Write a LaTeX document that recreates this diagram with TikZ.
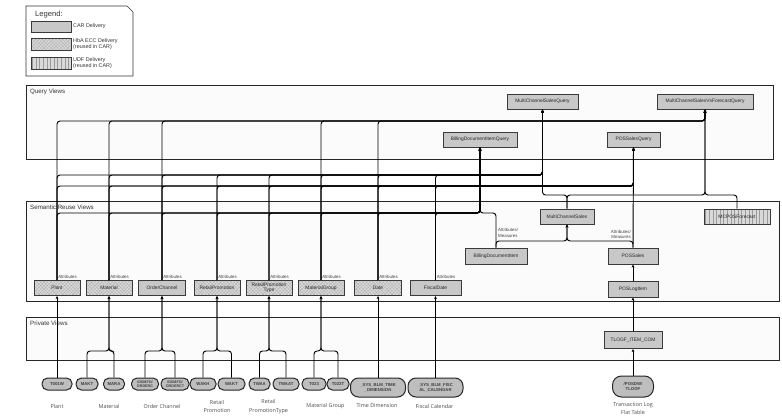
\documentclass[tikz,border=0pt]{standalone}
\usepackage{fontspec}
\setmainfont{Liberation Sans}
\newfontfamily\labelfont{Open Sans}
\usetikzlibrary{arrows.meta,patterns.meta}

\definecolor{boxgray}{HTML}{C8C8C8}
\definecolor{boxedge}{HTML}{3A3A3A}
\definecolor{hatchbase}{HTML}{D9D9D9}
\definecolor{hatchline}{HTML}{ABABAB}
\definecolor{udfline}{HTML}{9A9A9A}
\definecolor{ovalgray}{HTML}{BEBEBE}
\definecolor{panelfill}{HTML}{FBFBFB}

\begin{document}
\begin{tikzpicture}[x=1pt,y=-1pt,
  panel/.style={draw=black!85, line width=0.7pt, fill=panelfill},
  paneltitle/.style={anchor=north west, inner sep=0pt, font=\fontsize{6.2}{7}\selectfont, text=black!80},
  boxbase/.style={draw=boxedge, line width=0.9pt, minimum height=15pt,
    inner sep=1pt, font=\fontsize{4.9}{5.4}\selectfont, text=black!85, align=center},
  viewbox/.style={boxbase, fill=boxgray},
  ecc/.style={boxbase, preaction={fill=hatchbase},
    pattern={Hatch[angle=45,distance=2.4pt,line width=0.25pt]}, pattern color=hatchline},
  udf/.style={boxbase, preaction={fill=hatchbase},
    pattern={Lines[angle=90,distance=3.6pt,line width=0.3pt]}, pattern color=udfline},
  srctable/.style={draw=black!85, line width=1pt, fill=ovalgray, rounded corners=5.5pt,
    minimum height=12pt, inner sep=0.8pt, align=center,
    font=\bfseries\fontsize{4.3}{4.7}\selectfont, text=black!75},
  conn/.style={draw=black, line width=0.95pt, rounded corners=3pt,
    -{Stealth[length=3.2pt,width=2.8pt]}},
  attr/.style={inner sep=0.5pt, font=\fontsize{4.4}{5.2}\selectfont, text=black!75},
  srclabel/.style={font=\labelfont\fontsize{5.4}{8.4}\selectfont, text=black!70, align=center},
  legtext/.style={anchor=west, inner sep=0pt, font=\fontsize{5.4}{6.2}\selectfont, text=black!80, align=left},
]
\useasboundingbox (0,0) rectangle (782,418);
\fill[white] (0,0) rectangle (782,418);

% ---------- legend ----------
\draw[draw=black!80, line width=0.7pt, fill=white]
  (26,6) -- (127,6) -- (133,12) -- (133,76) -- (26,76) -- cycle;
\node[anchor=west, inner sep=0pt, font=\fontsize{7.6}{9}\selectfont, text=black!80] (legtitle) at (35,15) {Legend:};
\node[viewbox, minimum width=40pt, minimum height=11pt] (legcar) at (51,26.5) {};
\node[ecc, minimum width=40pt, minimum height=12pt] (legecc) at (51,44) {};
\node[udf, minimum width=40pt, minimum height=12pt] (legudf) at (51,63) {};
\node[legtext] (legcart) at (73,26.5) {CAR Delivery};
\node[legtext] (legecct) at (73,44) {HbA ECC Delivery\\(reused in CAR)};
\node[legtext] (legudft) at (73,63) {UDF Delivery\\(reused in CAR)};

% ---------- layers ----------
\draw[panel] (26,85) rectangle (773,159);
\draw[panel] (26,201) rectangle (779,301);
\draw[panel] (26,317) rectangle (779,360);
\node[paneltitle] (tquery) at (30,88.5) {Query Views};
\node[paneltitle] (tsem) at (30,204.5) {Semantic Reuse Views};
\node[paneltitle] (tpriv) at (30,320.5) {Private Views};

% bus heights
\coordinate (busA) at (0,121);
\coordinate (busB) at (0,175);
\coordinate (busC) at (0,186);
\coordinate (busE) at (0,195);
\coordinate (busD) at (0,213);
\coordinate (busF) at (0,241);
\coordinate (joinP) at (0,351);

% ---------- query views ----------
\node[viewbox, minimum width=71pt] (mcsq) at (542.5,101.5) {MultiChannelSalesQuery};
\node[viewbox, minimum width=96pt] (mcsvfq) at (705,101.5) {MultiChannelSalesVsForecastQuery};
\node[viewbox, minimum width=74pt] (bdiq) at (480,139.5) {BillingDocumentItemQuery};
\node[viewbox, minimum width=53pt] (possq) at (633.5,139.5) {POSSalesQuery};

% ---------- semantic reuse views ----------
\node[ecc, minimum width=46pt] (plant) at (57,288) {Plant};
\node[ecc, minimum width=46pt] (material) at (109,288) {Material};
\node[viewbox, minimum width=47pt] (orderch) at (162,288) {OrderChannel};
\node[ecc, minimum width=46pt] (retailpromo) at (217,288) {RetailPromotion};
\node[ecc, minimum width=46pt] (retailpromotype) at (269,288) {RetailPromotion\\Type};
\node[ecc, minimum width=46pt] (matgroup) at (321,288) {MaterialGroup};
\node[ecc, minimum width=47pt] (date) at (378,288) {Date};
\node[viewbox, minimum width=51pt] (fiscaldate) at (435.5,288) {FiscalDate};

\node[viewbox, minimum width=62pt, minimum height=16pt] (bdi) at (496,256) {BillingDocumentItem};
\node[viewbox, minimum width=54pt] (mcs) at (567,216.5) {MultiChannelSales};
\node[udf, minimum width=66pt] (mcpos) at (737,216.5) {MCPOSForecast};
\node[viewbox, minimum width=50pt, minimum height=16pt] (possales) at (633,256) {POSSales};
\node[viewbox, minimum width=50pt, minimum height=16pt] (poslog) at (633,289) {POSLogItem};

% ---------- private views ----------
\node[viewbox, minimum width=58pt, minimum height=17pt] (tlogf) at (633,340) {TLOGF\_ITEM\_COM};

% ---------- source tables ----------
\node[srctable, minimum width=30pt] (t001w) at (57,384) {T001W};
\node[srctable, minimum width=22pt] (makt) at (87,384) {MAKT};
\node[srctable, minimum width=21pt] (mara) at (114,384) {MARA};
\node[srctable, minimum width=27pt, font=\bfseries\fontsize{3.7}{4.3}\selectfont] (ordc) at (145,384) {/DSMFO/\\ORDERC};
\node[srctable, minimum width=28pt, font=\bfseries\fontsize{3.7}{4.3}\selectfont] (ordct) at (175,384) {/DSMFO/\\ORDERCT};
\node[srctable, minimum width=26pt] (wakh) at (203,384) {WAKH};
\node[srctable, minimum width=27pt] (wakt) at (231.5,384) {WAKT};
\node[srctable, minimum width=21pt] (twaa) at (259.5,384) {TWAA};
\node[srctable, minimum width=26pt] (twaat) at (286,384) {TWAAT};
\node[srctable, minimum width=24pt] (tzero) at (314,384) {T023};
\node[srctable, minimum width=22pt] (tzerot) at (338,384) {T023T};
\node[srctable, minimum width=55pt, minimum height=19pt, rounded corners=8pt] (systime) at (378,387.5) {\_SYS\_BLM\_TIME\\\_DIMENSION};
\node[srctable, minimum width=55pt, minimum height=19pt, rounded corners=8pt] (sysfisc) at (435.5,387.5) {\_SYS\_BLM\_FISC\\AL\_CALENDAR};
\node[srctable, minimum width=41pt, minimum height=21pt, rounded corners=9pt] (posdw) at (633,386.5) {/POSDW/\\TLOGF};

\node[srclabel] (lplant) at (57,406) {Plant};
\node[srclabel] (lmaterial) at (109,406.5) {Material};
\node[srclabel] (lorder) at (162,406.5) {Order Channel};
\node[srclabel] (lretail) at (217,406.5) {Retail\\Promotion};
\node[srclabel] (lretailtype) at (268.5,406.5) {Retail\\PromotionType};
\node[srclabel] (lmatgroup) at (325.5,406) {Material Group};
\node[srclabel] (ltime) at (377,406) {Time Dimension};
\node[srclabel] (lfiscal) at (434.5,406.5) {Fiscal Calendar};
\node[srclabel] (ltlog) at (633,408.5) {Transaction Log\\Flat Table};

% ---------- connectors: sources into views ----------
\draw[conn] (t001w.north) -- (plant.south);
\foreach \s in {makt,mara}
  \draw[conn] (\s.north) |- (joinP -| material.south) -- (material.south);
\foreach \s in {ordc,ordct}
  \draw[conn] (\s.north) |- (joinP -| orderch.south) -- (orderch.south);
\foreach \s in {wakh,wakt}
  \draw[conn] (\s.north) |- (joinP -| retailpromo.south) -- (retailpromo.south);
\foreach \s in {twaa,twaat}
  \draw[conn] (\s.north) |- (joinP -| retailpromotype.south) -- (retailpromotype.south);
\foreach \s in {tzero,tzerot}
  \draw[conn] (\s.north) |- (joinP -| matgroup.south) -- (matgroup.south);
\draw[conn] (systime.north) -- (date.south);
\draw[conn] (sysfisc.north) -- (fiscaldate.south);
\draw[conn] (posdw.north) -- (tlogf.south);
\draw[conn] (tlogf.north) -- (poslog.south);
\draw[conn] (poslog.north) -- (possales.south);

% ---------- connectors: dimensions into queries ----------
\foreach \d in {plant,material,orderch,matgroup,date}
  \draw[conn] (\d.north) |- (busA -| mcsvfq.south) -- (mcsvfq.south);
\foreach \d in {plant,material,orderch,retailpromo,retailpromotype,matgroup,date,fiscaldate}{
  \draw[conn] (\d.north) |- (busB -| mcsq.south) -- (mcsq.south);
  \draw[conn] (\d.north) |- (busC -| possq.south) -- (possq.south);
  \draw[conn] (\d.north) |- (busD -| bdiq.south) -- (bdiq.south);
}

% ---------- connectors: facts ----------
\draw[conn] (bdi.north) |- (busD -| bdiq.south) -- (bdiq.south);
\draw[conn] (bdi.north) |- (busF -| mcs.south) -- (mcs.south);
\draw[conn] (possales.north) |- (busF -| mcs.south) -- (mcs.south);
\draw[conn] (possales.north) -- (possq.south);
\draw[conn] (mcs.north) |- (busE -| mcsq.south) -- (mcsq.south);
\draw[conn] (mcs.north) |- (busE -| mcsvfq.south) -- (mcsvfq.south);
\draw[conn] (mcpos.north) |- (busE -| mcsvfq.south) -- (mcsvfq.south);

% ---------- connector labels ----------
\foreach \d in {plant,material,orderch,retailpromo,retailpromotype,matgroup,date,fiscaldate}
  \node[attr, anchor=south west] (attr\d) at ([xshift=0.6pt,yshift=0.6pt]\d.north) {Attributes};
\node[attr, anchor=west, align=left] (attrbdi) at (497.5,233) {Attributes/\\Measures};
\node[attr, anchor=east, align=right] (attrpos) at (631.5,234.5) {Attributes/\\Measures};
\end{tikzpicture}
\end{document}
